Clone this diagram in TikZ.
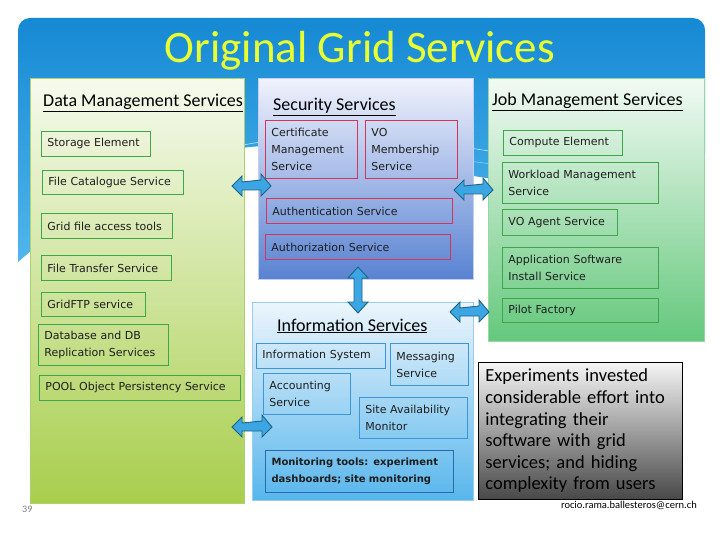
\documentclass[tikz,border=0pt]{standalone}
\usepackage{fontspec}
\setmainfont{Carlito}
\newfontfamily\boxfont{DejaVu Sans}
\definecolor{bgtop}{RGB}{22,137,212}
\definecolor{bgbot}{RGB}{80,182,236}
\definecolor{titleyellow}{RGB}{232,255,50}
\definecolor{textdark}{RGB}{30,30,30}
\definecolor{boxgreen}{RGB}{60,168,72}
\definecolor{boxred}{RGB}{214,52,88}
\definecolor{boxblue}{RGB}{60,150,214}
\definecolor{monblue}{RGB}{40,105,175}
\definecolor{arrowfill}{RGB}{60,165,228}
\definecolor{arrowline}{RGB}{30,100,130}
\definecolor{dmtop}{RGB}{246,250,238}
\definecolor{dmbot}{RGB}{168,206,76}
\definecolor{dmline}{RGB}{170,210,110}
\definecolor{sectop}{RGB}{240,242,252}
\definecolor{secbot}{RGB}{88,130,210}
\definecolor{infotop}{RGB}{236,245,252}
\definecolor{infobot}{RGB}{88,182,236}
\definecolor{infoline}{RGB}{150,205,240}
\definecolor{jobtop}{RGB}{242,250,244}
\definecolor{jobbot}{RGB}{100,200,124}
\definecolor{jobline}{RGB}{150,215,165}
\definecolor{greytop}{RGB}{245,245,245}
\definecolor{greybot}{RGB}{72,72,72}
\begin{document}
\begin{tikzpicture}[x=1pt,y=-1pt,
  panel/.style={anchor=north west, inner sep=0pt, line width=0.6pt},
  sbox/.style={anchor=north west, draw, line width=0.9pt, inner xsep=6pt, inner ysep=2pt,
    align=left, font=\boxfont\fontsize{11}{17}\selectfont, text=textdark},
  gbox/.style={sbox, draw=boxgreen},
  rbox/.style={sbox, draw=boxred},
  bbox/.style={sbox, draw=boxblue},
  head/.style={anchor=base west, inner sep=0pt, font=\fontsize{18}{20}\selectfont, text=black},
  blockarrow/.style={fill=arrowfill, draw=arrowline, line width=0.9pt, line join=miter}]
\useasboundingbox (0,0) rectangle (720,540);
\fill[white] (0,0) rectangle (720,540);
% blue background with wavy bottom
\shade[top color=bgtop, bottom color=bgbot]
  (18,262) [rounded corners=12pt] -- (18,18) -- (705,18) -- (705,165) [sharp corners]
  .. controls (620,185) and (540,186) .. (480,177)
  .. controls (400,165) and (320,140) .. (250,147)
  .. controls (150,157) and (60,225) .. (18,262) -- cycle;
\draw[white, opacity=0.7, line width=0.6pt] (40,225) .. controls (120,160) and (300,120) .. (420,140) .. controls (500,152) and (560,168) .. (700,155);
\draw[white, opacity=0.5, line width=0.5pt] (30,240) .. controls (130,170) and (300,135) .. (430,155) .. controls (500,166) and (560,176) .. (700,165);
% title
\node[anchor=base, inner sep=0pt, font=\fontsize{45}{50}\selectfont, text=titleyellow] (title) at (360,63) {Original Grid Services};
% panels
\node[panel, draw=dmline, top color=dmtop, bottom color=dmbot, minimum width=214pt, minimum height=425pt] (dm) at (30,78) {};
\node[panel, draw=sectop!70!secbot, top color=sectop, bottom color=secbot, minimum width=215pt, minimum height=201pt] (sec) at (258,78) {};
\node[panel, draw=infoline, top color=infotop, bottom color=infobot, minimum width=221pt, minimum height=198pt] (info) at (252,302) {};
\node[panel, draw=jobline, top color=jobtop, bottom color=jobbot, minimum width=216pt, minimum height=263pt] (job) at (488,78) {};
% headings
\node[head] (hdm) at (43,107) {\underline{Data Management Services}};
\node[head] (hsec) at (273,111) {\underline{Security Services}};
\node[head] (hjob) at (492,106) {\underline{Job Management Services}};
\node[head] (hinfo) at (277,331) {\underline{Information Services}};
% data management boxes
\node[gbox, text width=97pt, minimum height=25pt] (se) at (41,131) {Storage Element};
\node[gbox, text width=129pt, minimum height=24pt] (fcs) at (42,170) {File Catalogue Service};
\node[gbox, text width=119pt, minimum height=25pt] (gfa) at (41,213) {Grid file access tools};
\node[gbox, text width=118pt, minimum height=25pt] (fts) at (41,255) {File Transfer Service};
\node[gbox, text width=92pt, minimum height=24pt] (gftp) at (41,292) {GridFTP service};
\node[gbox, text width=118pt, minimum height=41pt] (db) at (38,324) {Database and DB\\Replication Services};
\node[gbox, text width=189pt, minimum height=25pt] (pool) at (39,375) {POOL Object Persistency Service};
% security boxes
\node[rbox, text width=80pt, minimum height=58pt] (cert) at (265,120) {Certificate\\Management\\Service};
\node[rbox, text width=80pt, minimum height=58pt] (vom) at (365,120) {VO\\Membership\\Service};
\node[rbox, text width=174pt, minimum height=25pt] (authn) at (266,198) {Authentication Service};
\node[rbox, text width=173pt, minimum height=25pt] (authz) at (265,234) {Authorization Service};
% information boxes
\node[bbox, text width=117pt, minimum height=25pt] (isys) at (256,343) {Information~System};
\node[bbox, text width=66pt, minimum height=42pt] (msg) at (390,343) {Messaging\\Service};
\node[bbox, text width=75pt, minimum height=41pt] (acct) at (263,373) {Accounting\\Service};
\node[bbox, text width=96pt, minimum height=41pt] (sam) at (359,397) {Site~Availability\\Monitor};
\node[sbox, draw=monblue, line width=1.1pt, text width=176pt, minimum height=42pt,
  font=\boxfont\bfseries\fontsize{10}{17}\selectfont] (mon) at (265,450) {Monitoring tools: experiment\\dashboards; site monitoring};
% job boxes
\node[gbox, text width=107pt, minimum height=25pt] (ce) at (503,130) {Compute Element};
\node[gbox, text width=144pt, minimum height=41pt] (wms) at (502,162) {Workload Management\\Service};
\node[gbox, text width=103pt, minimum height=26pt] (voa) at (502,209) {VO Agent Service};
\node[gbox, text width=144pt, minimum height=41pt] (asis) at (502,247) {Application Software\\Install Service};
\node[gbox, text width=144pt, minimum height=24pt] (pf) at (502,298) {Pilot Factory};
% grey note
\node[panel, draw=black, line width=0.8pt, top color=greytop, bottom color=greybot,
  text width=190pt, inner xsep=7pt, minimum height=137pt, align=left,
  font=\fontsize{18.5}{21.6}\selectfont, text=black] (note) at (478,362)
  {Experiments invested\\considerable effort into\\integrating their\\software with grid\\services; and hiding\\complexity from users};
% block arrows
\draw[blockarrow] (232,186) -- ++(10,-10) -- ++(0,6) -- (261,180) -- ++(0,-6) -- (271,186) -- (261,196) -- ++(0,-6) -- (242,190) -- ++(0,6) -- cycle;
\draw[blockarrow] (454,190) -- ++(10,-10) -- ++(0,6) -- (483,184) -- ++(0,-6) -- (493,190) -- (483,200) -- ++(0,-6) -- (464,194) -- ++(0,6) -- cycle;
\draw[blockarrow] (232,427) -- ++(10,-10) -- ++(0,6) -- (262,421) -- ++(0,-6) -- (272,427) -- (262,437) -- ++(0,-6) -- (242,431) -- ++(0,6) -- cycle;
\draw[blockarrow] (450,312) -- ++(10,-10) -- ++(0,6) -- (479,306) -- ++(0,-6) -- (489,312) -- (479,322) -- ++(0,-6) -- (460,316) -- ++(0,6) -- cycle;
\draw[blockarrow] (358,267) -- ++(10,11) -- ++(-6,0) -- (362,302) -- ++(6,0) -- (358,313) -- (348,302) -- ++(6,0) -- (354,278) -- ++(-6,0) -- cycle;
% footer
\node[anchor=base west, inner sep=0pt, font=\fontsize{10}{12}\selectfont, text=black!50] (pg) at (22,512) {39};
\node[anchor=base east, inner sep=0pt, font=\fontsize{10.5}{12}\selectfont, text=black] (mail) at (697,508) {rocio.rama.ballesteros@cern.ch};
\end{tikzpicture}
\end{document}
